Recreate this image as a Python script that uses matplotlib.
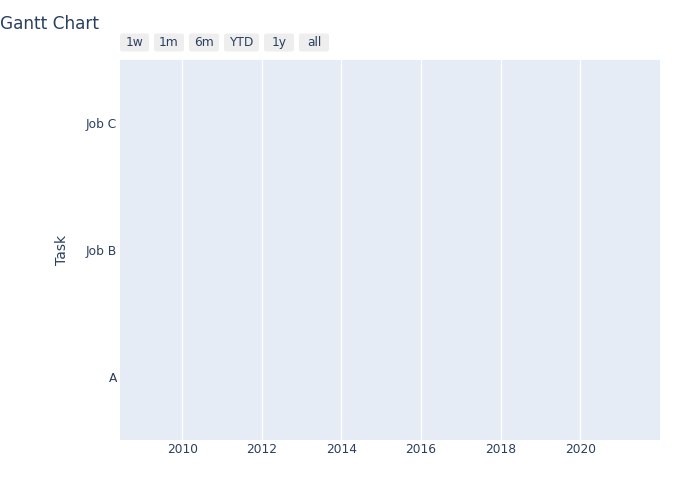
import numpy as np
import matplotlib
matplotlib.use("Agg")
import matplotlib.pyplot as plt
import matplotlib.dates as mdates
from matplotlib.patches import FancyBboxPatch
from datetime import datetime

# chart content
tasks = ["A", "Job B", "Job C"]
x_start = datetime(2008, 6, 10)
x_end = datetime(2022, 1, 1)
tick_years = [2010, 2012, 2014, 2016, 2018, 2020]
buttons = ["1w", "1m", "6m", "YTD", "1y", "all"]
button_widths = [29, 30, 30, 35, 30, 30]  # pixels

TEXT = "#2a3f5f"
BG = "#e5ecf6"
W, H = 700, 500

plt.rcParams["font.family"] = ["DejaVu Sans"]

fig = plt.figure(figsize=(7, 5), dpi=100)
# plot area: x 120..660, y 60..440 (pixels, top origin)
ax = fig.add_axes([120 / W, 1 - 440 / H, 540 / W, 380 / H])
ax.set_facecolor(BG)
for s in ax.spines.values():
    s.set_visible(False)

ax.set_xlim(mdates.date2num(x_start), mdates.date2num(x_end))
ax.set_ylim(-0.5, len(tasks) - 0.5)

ticks = [mdates.date2num(datetime(y, 1, 1)) for y in tick_years]
ax.set_xticks(ticks)
ax.set_xticklabels([str(y) for y in tick_years])
ax.set_yticks(range(len(tasks)))
ax.set_yticklabels(tasks)
ax.tick_params(axis="both", length=0, labelsize=8.8, colors=TEXT)
ax.tick_params(axis="x", pad=2)
ax.tick_params(axis="y", pad=2)
ax.grid(axis="x", color="white", linewidth=1)
ax.set_axisbelow(True)

ax.set_ylabel("Task", fontsize=10, color=TEXT, labelpad=12)

fig.text(0, 1 - 24 / H, "Gantt Chart", fontsize=12.2, color=TEXT, va="center", ha="left")

# range selector buttons
bx = 120
for lbl, bw in zip(buttons, button_widths):
    rect = FancyBboxPatch((bx / W, 1 - 51.5 / H), bw / W, 18 / H,
                          boxstyle="round,pad=0,rounding_size=0.004",
                          transform=fig.transFigure, facecolor="#eeeeee",
                          edgecolor="none")
    fig.patches.append(rect)
    fig.text((bx + bw / 2) / W, 1 - 42.5 / H, lbl, fontsize=8.8, color=TEXT,
             ha="center", va="center")
    bx += bw + 5

fig.savefig("out.png", dpi=100)
